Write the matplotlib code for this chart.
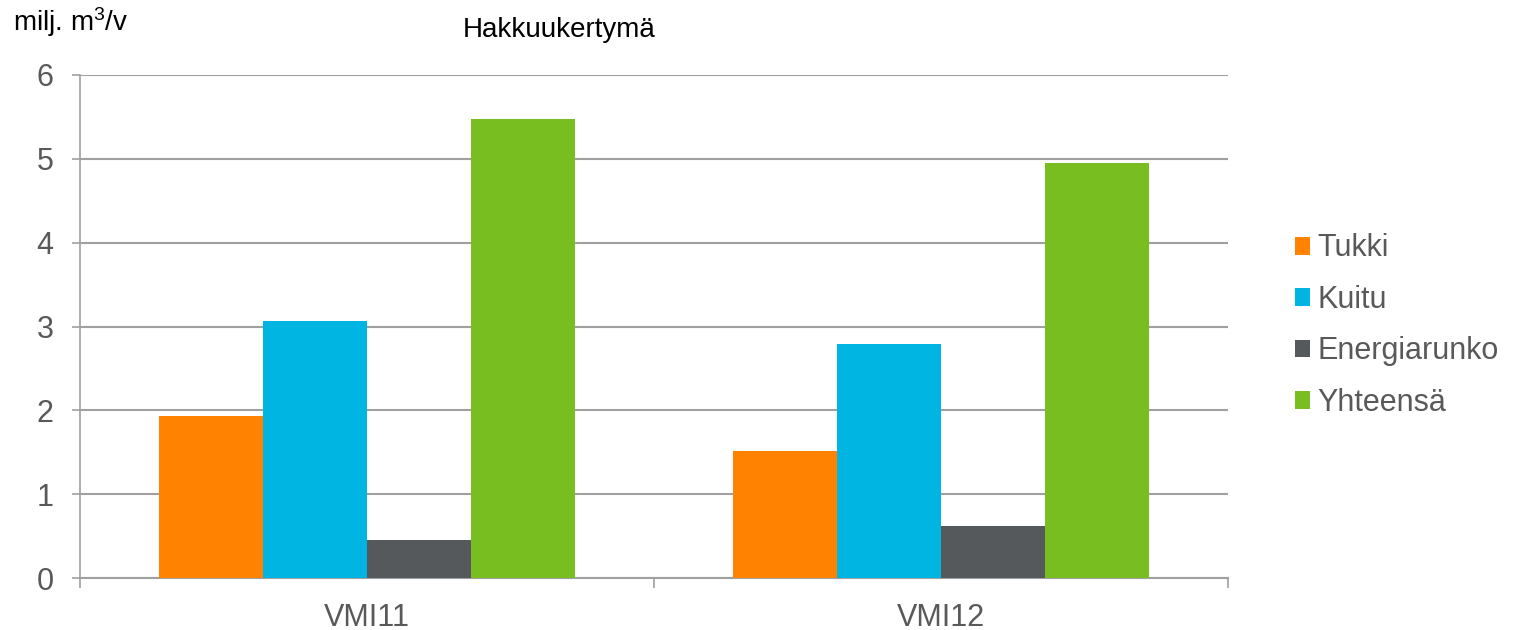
import matplotlib
matplotlib.use("Agg")
import matplotlib.pyplot as plt
import numpy as np
from matplotlib.patches import Patch

plt.rcParams['font.family'] = ['Liberation Sans', 'DejaVu Sans']
plt.rcParams['mathtext.fontset'] = 'custom'
plt.rcParams['mathtext.rm'] = 'Liberation Sans'
plt.rcParams['mathtext.it'] = 'Liberation Sans'
plt.rcParams['mathtext.default'] = 'regular'

categories = ["VMI11", "VMI12"]
series_names = ["Tukki", "Kuitu", "Energiarunko", "Yhteensä"]
tukki = [1.93, 1.52]
kuitu = [3.07, 2.79]
energiarunko = [0.45, 0.62]
yhteensa = [5.48, 4.95]
colors = ["#FF8300", "#00B5E2", "#55595C", "#78BE21"]
yticks = [0, 1, 2, 3, 4, 5, 6]

fig = plt.figure(figsize=(15.15, 6.3), dpi=100)
ax = fig.add_axes([80/1515, 1-578/630, (1228-80)/1515, (578-75)/630])

series = [tukki, kuitu, energiarunko, yhteensa]
n = len(series)
bw = 104/574
x = np.arange(len(categories))
for i, (vals, c, name) in enumerate(zip(series, colors, series_names)):
    offs = (i - (n-1)/2) * bw
    ax.bar(x + offs, vals, width=bw, color=c, label=name, zorder=3)

ax.set_xlim(-0.5, len(categories)-0.5)
ax.set_ylim(0, 6)
ax.set_yticks(yticks)
ax.set_yticklabels([str(t) for t in yticks], fontsize=22, color="#595959")
ax.set_xticks(x)
ax.set_xticklabels(categories, fontsize=22, color="#595959")
ax.tick_params(axis='x', length=0, pad=18)
ax.tick_params(axis='y', length=6, width=1.2, color="#A0A0A0", pad=13)
# category separators
ax.set_xticks([-0.5, 0.5, 1.5], minor=True)
ax.tick_params(axis='x', which='minor', length=7, width=1.2, color="#A0A0A0")

ax.grid(axis='y', color="#A0A0A0", linewidth=1.5, zorder=0)
for s in ['top', 'right']:
    ax.spines[s].set_visible(False)
ax.spines['left'].set_color("#A0A0A0")
ax.spines['left'].set_linewidth(1.2)
ax.spines['bottom'].set_color("#A0A0A0")
ax.spines['bottom'].set_linewidth(1.5)
ax.set_axisbelow(True)

handles = [Patch(facecolor=c, edgecolor='none') for c in colors]
leg = fig.legend(handles, series_names, loc='upper left', bbox_to_anchor=(1267/1515, 1-206/630),
                 frameon=False, fontsize=22, handlelength=0.52, handleheight=0.52,
                 handletextpad=0.23, labelspacing=0.70, labelcolor="#595959")

fig.text(13/1515, 1-31/630, "milj. m$^{3}$/v", fontsize=20, va='baseline', ha='left', color="#000000")
fig.text(559/1515, 1-37/630, "Hakkuukertymä", fontsize=20, va='baseline', ha='center', color="#000000")

fig.savefig("out.png", dpi=100)
